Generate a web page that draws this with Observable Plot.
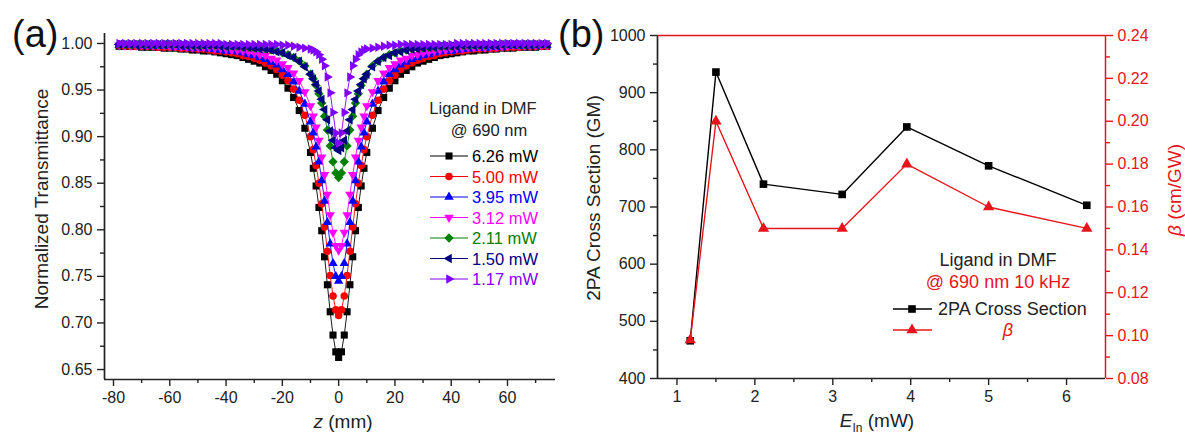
<!DOCTYPE html>
<html><head><meta charset="utf-8">
<script src="https://cdn.jsdelivr.net/npm/d3@7"></script>
<script src="https://cdn.jsdelivr.net/npm/@observablehq/plot@0.6"></script>
<style>
body{margin:0;background:#fff;}
#wrap{position:relative;width:1185px;height:434px;overflow:hidden;background:#fff;}
#wrap svg{position:absolute;top:0;}
</style></head><body><div id="wrap"></div>
<script>
// ---------- Panel (a): z-scan data ----------
const zA = [-78,-76,-74,-72,-70,-68,-66,-64,-62,-60,-58,-56,-54,-52,-50,-48,-46,-44,-42,-40,-38,-36,-34,-32,-30,-28,-26,-24,-22,-20,-18,-16,-14,-12,
  -10,-9,-8,-7,-6,-5,-4,-3,-2,-1,0,1,2,3,4,5,6,7,8,9,10,
  12,14,16,18,20,22,24,26,28,30,32,34,36,38,40,42,44,46,48,50,52,54,56,58,60,62,64,66,68,70,72,74];
const T626 = [0.997,0.997,0.997,0.997,0.996,0.996,0.996,0.996,0.995,0.995,0.995,0.994,0.994,0.993,0.993,0.992,0.992,0.991,0.990,0.989,0.988,0.987,0.985,0.983,0.981,0.979,0.975,0.971,0.967,0.960,0.952,0.942,0.928,0.909,
  0.883,0.866,0.847,0.824,0.799,0.771,0.741,0.712,0.687,0.669,0.663,0.669,0.687,0.712,0.741,0.771,0.799,0.824,0.847,0.866,0.883,
  0.909,0.928,0.942,0.952,0.960,0.967,0.971,0.975,0.979,0.981,0.983,0.985,0.987,0.988,0.989,0.990,0.991,0.992,0.992,0.993,0.993,0.994,0.994,0.995,0.995,0.995,0.996,0.996,0.996,0.996,0.997,0.997];
const T500 = [0.998,0.997,0.997,0.997,0.997,0.997,0.997,0.996,0.996,0.996,0.996,0.995,0.995,0.995,0.994,0.994,0.993,0.992,0.992,0.991,0.990,0.989,0.987,0.986,0.984,0.982,0.979,0.976,0.972,0.966,0.960,0.951,0.939,0.923,
  0.900,0.886,0.869,0.850,0.828,0.803,0.777,0.751,0.729,0.714,0.708,0.714,0.729,0.751,0.777,0.803,0.828,0.850,0.869,0.886,0.900,
  0.923,0.939,0.951,0.960,0.966,0.972,0.976,0.979,0.982,0.984,0.986,0.987,0.989,0.990,0.991,0.992,0.992,0.993,0.994,0.994,0.995,0.995,0.995,0.996,0.996,0.996,0.996,0.997,0.997,0.997,0.997,0.997];
const T395 = [0.998,0.998,0.998,0.998,0.997,0.997,0.997,0.997,0.997,0.997,0.996,0.996,0.996,0.995,0.995,0.995,0.994,0.994,0.993,0.992,0.992,0.991,0.990,0.988,0.987,0.985,0.983,0.980,0.977,0.972,0.967,0.959,0.949,0.935,
  0.916,0.904,0.889,0.873,0.853,0.831,0.808,0.785,0.764,0.750,0.745,0.750,0.764,0.785,0.808,0.831,0.853,0.873,0.889,0.904,0.916,
  0.935,0.949,0.959,0.967,0.972,0.977,0.980,0.983,0.985,0.987,0.988,0.990,0.991,0.992,0.992,0.993,0.994,0.994,0.995,0.995,0.995,0.996,0.996,0.996,0.997,0.997,0.997,0.997,0.997,0.997,0.998,0.998];
const T312 = [0.998,0.998,0.998,0.998,0.998,0.998,0.998,0.998,0.998,0.997,0.997,0.997,0.997,0.996,0.996,0.996,0.996,0.995,0.995,0.994,0.993,0.993,0.992,0.991,0.990,0.988,0.987,0.984,0.982,0.978,0.974,0.968,0.960,0.948,
  0.933,0.922,0.910,0.896,0.878,0.859,0.838,0.816,0.797,0.783,0.778,0.783,0.797,0.816,0.838,0.859,0.878,0.896,0.910,0.922,0.933,
  0.948,0.960,0.968,0.974,0.978,0.982,0.984,0.987,0.988,0.990,0.991,0.992,0.993,0.993,0.994,0.995,0.995,0.996,0.996,0.996,0.996,0.997,0.997,0.997,0.997,0.998,0.998,0.998,0.998,0.998,0.998,0.998];
const T211 = [0.999,0.999,0.999,0.999,0.999,0.999,0.999,0.999,0.999,0.999,0.999,0.999,0.999,0.998,0.998,0.998,0.998,0.998,0.998,0.997,0.997,0.997,0.996,0.996,0.995,0.995,0.994,0.993,0.992,0.990,0.988,0.985,0.981,0.976,
  0.967,0.962,0.955,0.946,0.936,0.922,0.907,0.890,0.873,0.861,0.856,0.861,0.873,0.890,0.907,0.922,0.936,0.946,0.955,0.962,0.967,
  0.976,0.981,0.985,0.988,0.990,0.992,0.993,0.994,0.995,0.995,0.996,0.996,0.997,0.997,0.997,0.998,0.998,0.998,0.998,0.998,0.998,0.999,0.999,0.999,0.999,0.999,0.999,0.999,0.999,0.999,0.999,0.999];
const T150 = [0.999,0.999,0.999,0.999,0.999,0.999,0.999,0.999,0.999,0.999,0.999,0.998,0.998,0.998,0.998,0.998,0.998,0.998,0.997,0.997,0.997,0.997,0.996,0.996,0.995,0.994,0.994,0.993,0.991,0.990,0.987,0.985,0.981,0.975,
  0.967,0.962,0.956,0.949,0.940,0.929,0.918,0.906,0.896,0.888,0.885,0.888,0.896,0.906,0.918,0.929,0.940,0.949,0.956,0.962,0.967,
  0.975,0.981,0.985,0.987,0.990,0.991,0.993,0.994,0.994,0.995,0.996,0.996,0.997,0.997,0.997,0.997,0.998,0.998,0.998,0.998,0.998,0.998,0.998,0.999,0.999,0.999,0.999,0.999,0.999,0.999,0.999,0.999];
const T117 = [1.000,1.000,1.000,1.000,1.000,1.000,1.000,1.000,1.000,1.000,1.000,1.000,1.000,1.000,1.000,1.000,1.000,1.000,1.000,0.999,0.999,0.999,0.999,0.999,0.999,0.999,0.999,0.999,0.999,0.998,0.998,0.997,0.996,0.995,
  0.994,0.993,0.991,0.988,0.983,0.976,0.964,0.947,0.926,0.904,0.893,0.904,0.926,0.947,0.964,0.976,0.983,0.988,0.991,0.993,0.994,
  0.995,0.996,0.997,0.998,0.998,0.999,0.999,0.999,0.999,0.999,0.999,0.999,0.999,0.999,0.999,1.000,1.000,1.000,1.000,1.000,1.000,1.000,1.000,1.000,1.000,1.000,1.000,1.000,1.000,1.000,1.000,1.000];
const seriesLabelsA = ["6.26 mW","5.00 mW","3.95 mW","3.12 mW","2.11 mW","1.50 mW","1.17 mW"];
const seriesColorsA = ["#000000","#ff0000","#0000ff","#ff00ff","#008000","#000080","#8000ff"];
const xTicksA = [-80,-60,-40,-20,0,20,40,60];
const xMinorA = [-70,-50,-30,-10,10,30,50,70];
const yTicksA = [0.65,0.70,0.75,0.80,0.85,0.90,0.95,1.00];
const yMinorA = [0.675,0.725,0.775,0.825,0.875,0.925,0.975];

// ---------- Panel (b) data ----------
const Ein = [1.17,1.50,2.11,3.12,3.95,5.00,6.26];
const sigma2PA = [466,936,740,722,840,772,703];
const beta = [0.098,0.200,0.150,0.150,0.180,0.160,0.150];
const xTicksB = [1,2,3,4,5,6];
const xMinorB = [1.5,2.5,3.5,4.5,5.5];
const yTicksB = [400,500,600,700,800,900,1000];
const yMinorB = [450,550,650,750,850,950];
const betaTicks = [0.08,0.10,0.12,0.14,0.16,0.18,0.20,0.22,0.24];
const betaMinor = [0.09,0.11,0.13,0.15,0.17,0.19,0.21,0.23];

const FONT = "'Liberation Sans', Arial, Helvetica, sans-serif";
const RED = "#e8141c";
const AX = "#222";

// custom triangle symbols (rotated d3 triangle)
const sqrt3 = Math.sqrt(3);
function triSym(rot) {
  return {draw(ctx, size) {
    const y = -Math.sqrt(size / (sqrt3 * 3));
    const pts = [[0, y * 2], [-sqrt3 * y, -y], [sqrt3 * y, -y]];
    const c = Math.cos(rot), s = Math.sin(rot);
    pts.forEach(([px, py], i) => {
      const X = px * c - py * s, Y = px * s + py * c;
      if (i) ctx.lineTo(X, Y); else ctx.moveTo(X, Y);
    });
    ctx.closePath();
  }};
}
const triDown = triSym(Math.PI), triLeft = triSym(-Math.PI / 2), triRight = triSym(Math.PI / 2);
const symA = ["square","circle","triangle",triDown,"diamond2",triLeft,triRight];
const symA_d3 = [d3.symbolSquare, d3.symbolCircle, d3.symbolTriangle, triDown, d3.symbolDiamond2, triLeft, triRight];
const rA = [4, 3.8, 3.5, 3.5, 4.2, 3.5, 3.5];

const seriesT = [T626,T500,T395,T312,T211,T150,T117];
const dataA = seriesT.map(arr => zA.map((z, j) => ({z, T: arr[j]})));

const xDomA = [-83.2, 77.06];
const yDomA = [0.6393, 1.0107];

const seriesMarks = [];
dataA.forEach((d, i) => {
  seriesMarks.push(Plot.line(d, {x: "z", y: "T", stroke: seriesColorsA[i], strokeWidth: 0.9}));
  seriesMarks.push(Plot.dot(d, {x: "z", y: "T", symbol: symA[i], r: rA[i], fill: seriesColorsA[i], stroke: "none"}));
});

const plotA = Plot.plot({
  width: 585, height: 434,
  marginLeft: 104, marginRight: 30, marginTop: 33, marginBottom: 55,
  x: {domain: xDomA}, y: {domain: yDomA},
  style: {fontFamily: FONT, fontSize: "16px", color: AX, overflow: "visible", background: "transparent"},
  marks: [
    Plot.axisX({ticks: xTicksA, tickSize: 7, tickPadding: 5, tickFormat: d => String(d), label: null, strokeWidth: 1.4}),
    Plot.axisX({ticks: xMinorA, tickSize: 4, tickFormat: () => "", label: null, strokeWidth: 1.4}),
    Plot.axisY({ticks: yTicksA, tickSize: 7, tickPadding: 5, tickFormat: d3.format(".2f"), label: null, strokeWidth: 1.4}),
    Plot.axisY({ticks: yMinorA, tickSize: 4, tickFormat: () => "", label: null, strokeWidth: 1.4}),
    Plot.ruleX([xDomA[0]], {stroke: AX, strokeWidth: 1.7}),
    Plot.ruleY([yDomA[0]], {stroke: AX, strokeWidth: 1.7}),
    ...seriesMarks
  ]
});
plotA.style.left = "0px";
document.getElementById("wrap").appendChild(plotA);

// ---------- Panel (b) ----------
const xDomB = [0.75, 6.5];
const yDomB = [400, 1000];
const bDom = [0.08, 0.24];
const toGM = b => yDomB[0] + (b - bDom[0]) / (bDom[1] - bDom[0]) * (yDomB[1] - yDomB[0]);
const fromGM = g => bDom[0] + (g - yDomB[0]) / (yDomB[1] - yDomB[0]) * (bDom[1] - bDom[0]);
const dataSigma = Ein.map((e, i) => ({e, v: sigma2PA[i]}));
const dataBeta = Ein.map((e, i) => ({e, v: toGM(beta[i])}));

const plotB = Plot.plot({
  width: 600, height: 434,
  marginLeft: 72, marginRight: 80, marginTop: 35, marginBottom: 56,
  x: {domain: xDomB}, y: {domain: yDomB},
  style: {fontFamily: FONT, fontSize: "16px", color: AX, overflow: "visible", background: "transparent"},
  marks: [
    Plot.axisX({ticks: xTicksB, tickSize: 7, tickPadding: 5, tickFormat: d => String(d), label: null, strokeWidth: 1.4}),
    Plot.axisX({ticks: xMinorB, tickSize: 4, tickFormat: () => "", label: null, strokeWidth: 1.4}),
    Plot.axisY({ticks: yTicksB, tickSize: 7, tickPadding: 5, tickFormat: d => String(d), label: null, strokeWidth: 1.4}),
    Plot.axisY({ticks: yMinorB, tickSize: 4, tickFormat: () => "", label: null, strokeWidth: 1.4}),
    Plot.axisY({anchor: "right", ticks: betaTicks.map(toGM), tickSize: 7, tickPadding: 5, tickFormat: d => fromGM(d).toFixed(2), label: null, stroke: RED, fill: RED, strokeWidth: 1.4}),
    Plot.axisY({anchor: "right", ticks: betaMinor.map(toGM), tickSize: 4, tickFormat: () => "", label: null, stroke: RED, strokeWidth: 1.4}),
    Plot.ruleX([xDomB[0]], {stroke: AX, strokeWidth: 1.7}),
    Plot.ruleY([yDomB[0]], {stroke: AX, strokeWidth: 1.7}),
    Plot.ruleY([yDomB[1]], {stroke: RED, strokeWidth: 1.5}),
    Plot.ruleX([xDomB[1]], {stroke: RED, strokeWidth: 1.5}),
    Plot.line(dataSigma, {x: "e", y: "v", stroke: "#000", strokeWidth: 1.4}),
    Plot.dot(dataSigma, {x: "e", y: "v", symbol: "square", r: 4.3, fill: "#000", stroke: "none"}),
    Plot.line(dataBeta, {x: "e", y: "v", stroke: RED, strokeWidth: 1.4}),
    Plot.dot(dataBeta, {x: "e", y: "v", symbol: "triangle", r: 4.2, fill: RED, stroke: "none"})
  ]
});
plotB.style.left = "585px";
document.getElementById("wrap").appendChild(plotB);

// ---------- Annotation overlay ----------
const ov = d3.select("#wrap").append("svg")
  .attr("width", 1185).attr("height", 434)
  .style("left", "0px").style("pointer-events", "none")
  .style("font-family", FONT);

function txt(x, y, s, size, opt = {}) {
  const t = ov.append("text").attr("x", x).attr("y", y)
    .attr("font-size", size).attr("fill", opt.fill || AX)
    .attr("text-anchor", opt.anchor || "start");
  if (opt.italic) t.attr("font-style", "italic");
  if (opt.transform) t.attr("transform", opt.transform).attr("x", 0).attr("y", 0);
  if (opt.dy) t.attr("dy", opt.dy);
  t.text(s);
  return t;
}

txt(12, 47, "(a)", 38, {fill: "#111"});
txt(558, 47, "(b)", 38, {fill: "#111"});

// axis titles
txt(0, 0, "Normalized Transmittance", 19, {anchor: "middle", transform: "translate(41,199) rotate(-90)", dy: "0.35em"});
txt(0, 0, "2PA Cross Section (GM)", 19, {anchor: "middle", transform: "translate(593,198) rotate(-90)", dy: "0.35em"});
{
  const t = ov.append("text").attr("transform", "translate(1174,236) rotate(-90)").attr("dy", "0.35em")
    .attr("font-size", 19).attr("fill", RED).attr("text-anchor", "start");
  t.append("tspan").attr("font-style", "italic").text("β");
  t.append("tspan").text(" (cm/GW)");
}
{
  const t = ov.append("text").attr("x", 343).attr("y", 428).attr("font-size", 19).attr("fill", AX).attr("text-anchor", "middle");
  t.append("tspan").attr("font-style", "italic").text("z");
  t.append("tspan").text(" (mm)");
}
{
  const t = ov.append("text").attr("x", 877).attr("y", 427).attr("font-size", 19).attr("fill", AX).attr("text-anchor", "middle");
  t.append("tspan").attr("font-style", "italic").text("E");
  t.append("tspan").attr("font-size", 12).attr("dy", 5).text("In");
  t.append("tspan").attr("dy", -5).text(" (mW)");
}

// legend (a)
txt(483, 114, "Ligand in DMF", 16.5, {anchor: "middle"});
txt(489, 136, "@ 690 nm", 16.5, {anchor: "middle"});
seriesLabelsA.forEach((lab, i) => {
  const cy = 156 + i * 20.5;
  ov.append("line").attr("x1", 430).attr("x2", 468).attr("y1", cy).attr("y2", cy)
    .attr("stroke", seriesColorsA[i]).attr("stroke-width", 1);
  ov.append("path").attr("transform", `translate(449,${cy})`)
    .attr("d", d3.symbol().type(symA_d3[i]).size(Math.PI * rA[i] * rA[i])())
    .attr("fill", seriesColorsA[i]);
  txt(472, cy + 6, lab, 16.5, {fill: seriesColorsA[i]});
});

// legend (b)
txt(998, 266, "Ligand in DMF", 18, {anchor: "middle"});
txt(998, 288, "@ 690 nm 10 kHz", 18, {anchor: "middle", fill: RED});
ov.append("line").attr("x1", 893).attr("x2", 932).attr("y1", 309).attr("y2", 309).attr("stroke", "#000").attr("stroke-width", 1.4);
ov.append("path").attr("transform", "translate(912,309)").attr("d", d3.symbol().type(d3.symbolSquare).size(Math.PI * 4.3 * 4.3)()).attr("fill", "#000");
txt(938, 315, "2PA Cross Section", 18);
ov.append("line").attr("x1", 893).attr("x2", 932).attr("y1", 330).attr("y2", 330).attr("stroke", RED).attr("stroke-width", 1.4);
ov.append("path").attr("transform", "translate(912,330)").attr("d", d3.symbol().type(d3.symbolTriangle).size(Math.PI * 4.2 * 4.2)()).attr("fill", RED);
txt(1008, 336, "β", 18, {anchor: "middle", fill: RED, italic: true});
</script>
</body></html>
